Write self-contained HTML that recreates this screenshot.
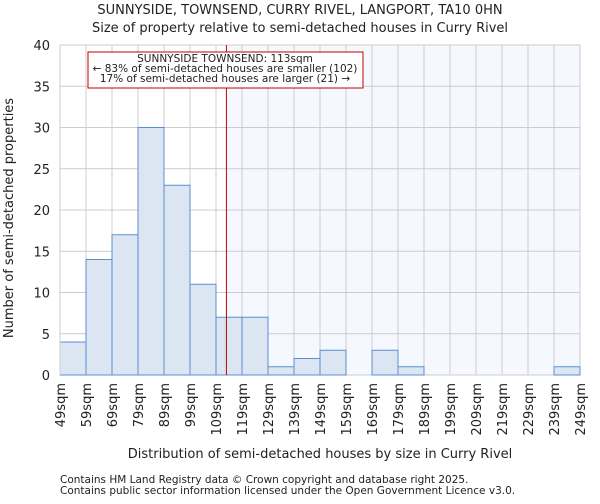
<!DOCTYPE html>
<html><head><meta charset="utf-8"><style>
body{margin:0;background:#fff;font-family:"DejaVu Sans","Liberation Sans",sans-serif;}
svg text{font-family:"DejaVu Sans","Liberation Sans",sans-serif;fill:#222;}
</style></head><body>
<svg id="chart" width="600" height="500" xmlns="http://www.w3.org/2000/svg">
<text x="300" y="14" font-size="13" text-anchor="middle">SUNNYSIDE, TOWNSEND, CURRY RIVEL, LANGPORT, TA10 0HN</text>
<text x="300" y="32" font-size="13" text-anchor="middle">Size of property relative to semi-detached houses in Curry Rivel</text>
<g id="plot"></g>
<text x="320" y="458" font-size="13" text-anchor="middle">Distribution of semi-detached houses by size in Curry Rivel</text>
<text transform="translate(13,218) rotate(-90)" font-size="13" text-anchor="middle">Number of semi-detached properties</text>
<text x="60" y="483" font-size="10.5">Contains HM Land Registry data © Crown copyright and database right 2025.</text>
<text x="60" y="494" font-size="10.5">Contains public sector information licensed under the Open Government Licence v3.0.</text>
</svg>
<script>
const binStarts=[49,59,69,79,89,99,109,119,129,139,149,159,169,179,189,199,209,219,229,239,249];
const counts=[4,14,17,30,23,11,7,7,1,2,3,0,3,1,0,0,0,0,0,1];
const yTicks=[0,5,10,15,20,25,30,35,40];
const subjectSize=113;
const annotLines=["SUNNYSIDE TOWNSEND: 113sqm","← 83% of semi-detached houses are smaller (102)","17% of semi-detached houses are larger (21) →"];
const NS="http://www.w3.org/2000/svg";
const X0=60,X1=580,Y0=375,Y1=45,xMin=49,xMax=249,yMax=40;
const xs=v=>X0+(v-xMin)/(xMax-xMin)*(X1-X0);
const ys=v=>Y0-v/yMax*(Y0-Y1);
const g=document.getElementById('plot');
function mk(t,a){const e=document.createElementNS(NS,t);for(const k in a)e.setAttribute(k,a[k]);g.appendChild(e);return e;}
let e=mk('rect',{x:xs(subjectSize),y:Y1,width:X1-xs(subjectSize),height:Y0-Y1,fill:'#f5f8fe'});


yTicks.forEach(t=>{
 let l=mk('line',{x1:X0,x2:X1,y1:ys(t),y2:ys(t),stroke:'#cccccc','stroke-width':1});
 
 
 let tx=mk('text',{x:X0-10,y:ys(t)+5,'font-size':13,'text-anchor':'end'});tx.textContent=t;
 
 
});
binStarts.forEach(b=>{
 let l=mk('line',{x1:xs(b),x2:xs(b),y1:Y1,y2:Y0,stroke:'#cccccc','stroke-width':1});
 
 
 let tx=mk('text',{transform:`translate(${xs(b)+5},${Y0+8}) rotate(-90)`,'font-size':13,'text-anchor':'end'});tx.textContent=b+'sqm';
 
 
});
counts.forEach((c,i)=>{
 if(c<=0)return;
 let r=mk('rect',{x:xs(binStarts[i]),y:ys(c),width:xs(binStarts[i+1])-xs(binStarts[i]),height:Y0-ys(c),fill:'#dce6f3',stroke:'#5a8fd0','stroke-width':1});
 
 
});
e=mk('line',{x1:X0,x2:X0,y1:Y1,y2:Y0,stroke:'#cccccc'});


e=mk('line',{x1:xs(subjectSize),x2:xs(subjectSize),y1:Y1,y2:Y0,stroke:'#c00000','stroke-width':1});


e=mk('rect',{x:88,y:52,width:275,height:36,fill:'#fff',stroke:'#c00000','stroke-width':1});


annotLines.forEach((s,i)=>{
 let t=mk('text',{x:225,y:62+i*10,'font-size':10.5,'text-anchor':'middle'});t.textContent=s;
 
 
});
</script>
</body></html>
